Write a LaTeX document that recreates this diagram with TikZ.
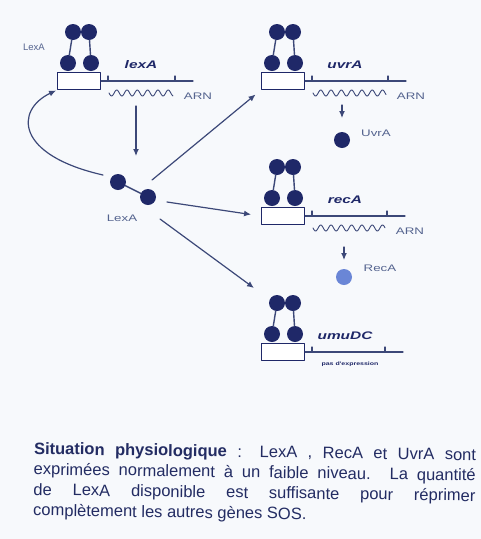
\documentclass[tikz,border=0pt]{standalone}
\usepackage{fontspec}
\setmainfont{Liberation Sans}
\newfontfamily\capfont{Liberation Sans}
\newfontfamily\widefont[FakeStretch=1.4]{Liberation Sans}
\usetikzlibrary{arrows.meta,calc}
\definecolor{navy}{HTML}{1F2868}
\definecolor{linecol}{HTML}{3C4878}
\definecolor{lblcol}{HTML}{55648F}
\definecolor{reccol}{HTML}{6A86D6}
\definecolor{txtcol}{HTML}{232C63}
\definecolor{bgcol}{HTML}{F7F9FC}
\begin{document}
\begin{tikzpicture}[x=1pt,y=-1pt,line join=round,line cap=round,>={Latex[length=7pt,width=6pt]}]
    \tikzset{prot/.style={circle,fill=navy,inner sep=0pt,minimum size=16pt},
        link/.style={draw=linecol,line width=1.4pt},
        promoter/.style={draw=navy,fill=white,line width=1.1pt,minimum width=43pt,minimum height=17pt,inner sep=0pt},
        dna/.style={draw=linecol,line width=1.1pt},
        arr/.style={->,draw=linecol,line width=1.2pt},
        lbl/.style={font=\widefont\fontsize{9.5}{11}\selectfont,text=lblcol,inner sep=1pt},
        gene/.style={font=\widefont\bfseries\itshape\fontsize{11}{13}\selectfont,text=navy,inner sep=1pt}}
    \fill[bgcol] (0,0) rectangle (481,539);
    \useasboundingbox (0,0) rectangle (481,539);
    % operators with the LexA dimer bound
    \foreach \g/\cx/\cy/\len in {lexA/79/81/114,uvrA/283/81/123,recA/283/216/122,umuDC/283/352/120}{
        \node[promoter] (box\g) at (\cx,\cy) {};
        \draw[dna] (box\g.east) -- (\cx+\len,\cy);
        \draw[dna] (\cx+29,\cy)--(\cx+29,\cy-5);
        \draw[dna] (\cx+\len-18,\cy)--(\cx+\len-18,\cy-5);
        \node[prot] (\g-tl) at (\cx-6,\cy-49) {};
        \node[prot] (\g-tr) at (\cx+10,\cy-49) {};
        \node[prot] (\g-bl) at (\cx-11,\cy-18) {};
        \node[prot] (\g-br) at (\cx+12,\cy-18) {};
        \draw[link] (\g-tl)--(\g-bl);
        \draw[link] (\g-tr)--(\g-br);
        \node[gene] (lab\g) at (\cx+62,\cy-16) {\g};
    }
    \foreach \g/\cx/\cy/\len in {lexA/79/81/114,uvrA/283/81/123,recA/283/216/122}{
        \draw[dna,line width=0.9pt,samples=120,domain=0:\len-50,smooth,variable=\t] plot ({\cx+30+\t},{\cy+12+3*sin(\t*34.95)});
        \node[lbl] (arn\g) at (\cx+\len+5,\cy+15) {ARN};
    }
    \node[lbl,font=\capfont\fontsize{9.5}{11}\selectfont] (opLab) at (34,47) {LexA};
    \node[lbl,font=\widefont\bfseries\fontsize{5}{6}\selectfont,text=navy] (noexpr) at (350,364) {pas d'expression};
    % free LexA
    \node[prot] (freeA) at (118,182) {};
    \node[prot] (freeB) at (148,197) {};
    \draw[link] (freeA)--(freeB);
    \node[lbl] (freeLab) at (122,218) {LexA};
    \coordinate (lexAout) at (136,106);
    \coordinate (lexAin) at (136,156);
    \draw[arr] (lexAout)--(lexAin);
    \draw[arr,shorten >=1pt] ($(freeA)+(-15,-7)$) .. controls (15,155) and (15,110) .. (boxlexA.south west);
    \draw[arr,shorten >=7pt] ($(freeB)+(4,-17)$) -- (boxuvrA.south west);
    \draw[arr,shorten >=10pt] ($(freeB)+(19,5)$) -- (boxrecA.west);
    \coordinate (umuIn) at (254,288);
    \draw[arr] ($(freeB)+(12,22)$) -- (umuIn);
    % proteins
    \node[prot] (protUvrA) at (342,140) {};
    \node[lbl] (labUvrA) at (376,133) {UvrA};
    \draw[arr] ($(protUvrA)+(0,-35)$)--($(protUvrA)+(0,-22)$);
    \node[prot,fill=reccol] (protRecA) at (344,277) {};
    \node[lbl] (labRecA) at (380,268) {RecA};
    \draw[arr] ($(protRecA)+(0,-30)$)--($(protRecA)+(0,-17)$);
    % legend
    \node[anchor=north west,text width=442pt,align=justify,inner sep=0pt,text=txtcol,rotate=-0.8,
        font=\capfont\fontsize{16.5}{20.5}\selectfont] (caption) at (34,442)
        {\hyphenpenalty=10000{\bfseries Situation physiologique} : LexA , RecA et UvrA sont\linebreak exprimées normalement à un faible niveau. La quantité\linebreak de LexA disponible est suffisante pour réprimer\linebreak complètement les autres gènes SOS.};
\end{tikzpicture}
\end{document}
